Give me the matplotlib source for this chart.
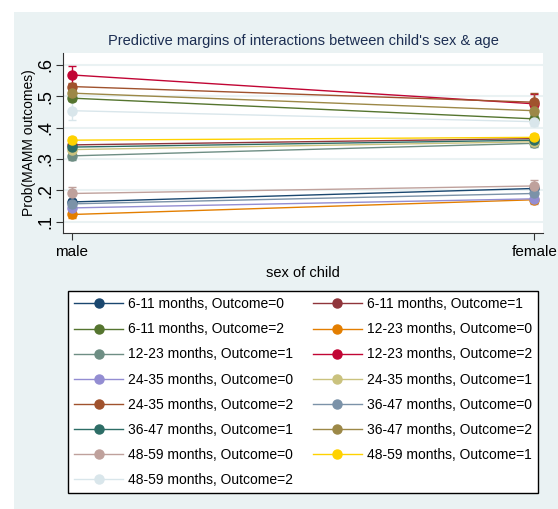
import matplotlib.pyplot as plt
import matplotlib.patches as mpatches

# data
sexes = ['male', 'female']
series_names = [
    '6-11 months, Outcome=0', '6-11 months, Outcome=1', '6-11 months, Outcome=2',
    '12-23 months, Outcome=0', '12-23 months, Outcome=1', '12-23 months, Outcome=2',
    '24-35 months, Outcome=0', '24-35 months, Outcome=1', '24-35 months, Outcome=2',
    '36-47 months, Outcome=0', '36-47 months, Outcome=1', '36-47 months, Outcome=2',
    '48-59 months, Outcome=0', '48-59 months, Outcome=1', '48-59 months, Outcome=2',
]
male_vals = [0.163, 0.345, 0.494, 0.123, 0.310, 0.568, 0.144, 0.330, 0.531,
             0.157, 0.338, 0.510, 0.190, 0.360, 0.454]
female_vals = [0.206, 0.365, 0.428, 0.170, 0.350, 0.476, 0.173, 0.355, 0.481,
               0.190, 0.360, 0.454, 0.214, 0.369, 0.419]
male_ci = [0.010, 0.010, 0.010, 0.010, 0.012, 0.030, 0.010, 0.010, 0.010,
           0.012, 0.010, 0.010, 0.020, 0.010, 0.030]
female_ci = [0.012, 0.012, 0.012, 0.010, 0.012, 0.030, 0.015, 0.012, 0.030,
             0.015, 0.012, 0.012, 0.020, 0.012, 0.015]

# stata s2color palette
colors = ['#1a476f', '#90353b', '#55752f', '#e37e00', '#6e8e84', '#c10534',
          '#938dd2', '#cac27e', '#a0522d', '#7b92a8', '#2d6d66', '#9c8847',
          '#bfa19c', '#ffd200', '#d9e6eb']

plt.rcParams['font.family'] = ['Liberation Sans', 'DejaVu Sans']

fig = plt.figure(figsize=(5.58, 5.09), dpi=100)
fig.patch.set_facecolor('white')
# light background panel (white margin on left and top)
bg = mpatches.Rectangle((14 / 558, 0), 1, 1 - 12 / 509, transform=fig.transFigure,
                        facecolor='#eaf2f3', edgecolor='none', zorder=-10)
fig.patches.append(bg)

ax = fig.add_axes([63 / 558, 1 - 233 / 509, 480 / 558, 180 / 509])
ax.set_zorder(5)
ax.set_facecolor('white')

handles = []
for i, name in enumerate(series_names):
    yv = [male_vals[i], female_vals[i]]
    ax.errorbar([0, 1], yv, yerr=[male_ci[i], female_ci[i]], color=colors[i],
                lw=1, marker='o', ms=6.5, capsize=3, elinewidth=1, capthick=1, zorder=3)
    h, = ax.plot([], [], color=colors[i], lw=1, marker='o', ms=6.5)
    handles.append(h)

ax.set_xlim(-0.019, 1.019)
ax.set_ylim(0.064, 0.638)
ax.set_xticks([0, 1])
ax.set_xticklabels(sexes, fontsize=11)
ax.set_yticks([0.1, 0.2, 0.3, 0.4, 0.5, 0.6])
ax.set_yticklabels(['.1', '.2', '.3', '.4', '.5', '.6'], fontsize=13, rotation=90, va='center')
ax.grid(axis='y', color='#eaf2f3', lw=1.5, zorder=0)
ax.set_axisbelow(True)
for s in ['top', 'right']:
    ax.spines[s].set_visible(False)
for s in ['left', 'bottom']:
    ax.spines[s].set_color('#333333')
ax.tick_params(colors='#333333', length=5, labelcolor='black')
ax.tick_params(axis='y', pad=1)
ax.set_xlabel('sex of child', fontsize=10.5, labelpad=5)
ax.set_ylabel('Prob(MAMM outcomes)', fontsize=10, labelpad=1)
ax.set_title("Predictive margins of interactions between child's sex & age",
             fontsize=10.5, color='#1c2e52', pad=6)

# stata fills the legend row by row, matplotlib column by column
order = list(range(0, 15, 2)) + list(range(1, 15, 2))
leg = fig.legend([handles[k] for k in order], [series_names[k] for k in order],
                 ncol=2, loc='upper left', mode='expand',
                 bbox_to_anchor=(68 / 558, 1 - 494 / 509, 470 / 558, 203 / 509),
                 fontsize=10, frameon=True, fancybox=False, handlelength=3.5,
                 handletextpad=0.35, borderaxespad=0, borderpad=0.45,
                 labelspacing=0.8)
leg.get_frame().set_edgecolor('black')
leg.get_frame().set_facecolor('white')
leg.get_frame().set_alpha(1)
leg.set_zorder(6)

fig.savefig('out.png', dpi=100, facecolor=fig.get_facecolor())
